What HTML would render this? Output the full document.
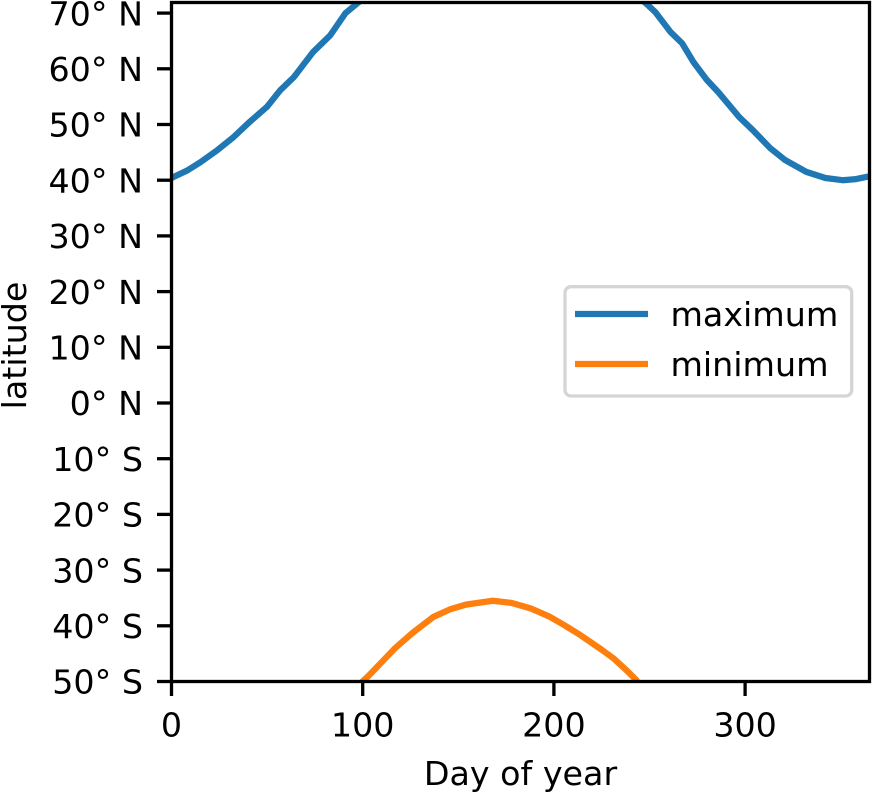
<!DOCTYPE html>
<html lang="en">
<head>
<meta charset="utf-8">
<title>Latitude extremes by day of year</title>
<style>
html,body{margin:0;padding:0;background:#fff;width:872px;height:793px;overflow:hidden}
svg{display:block}
text{font-family:"DejaVu Sans","Liberation Sans",sans-serif;font-size:33.3px;fill:#000}
</style>
</head>
<body>
<svg id="chart" xmlns="http://www.w3.org/2000/svg" width="872" height="793" viewBox="0 0 872 793">
  <defs>
    <clipPath id="plot-clip"><rect x="171.5" y="2.5" width="698" height="679"></rect></clipPath>
  </defs>
  <rect x="0" y="0" width="872" height="793" fill="#fff"></rect>
  <g id="series" clip-path="url(#plot-clip)"></g>
  <g id="ticks"></g>
  <g fill="none" stroke="#000" stroke-width="3.3">
    <rect x="171.5" y="2.5" width="698" height="679"></rect>
  </g>
  <text x="520.5" y="785" text-anchor="middle">Day of year</text>
  <text x="0" y="0" text-anchor="middle" transform="translate(26 345.5) rotate(-90)">latitude</text>
  <g>
    <rect x="565" y="286.7" width="286.7" height="109.3" rx="6" ry="6" fill="#fff" fill-opacity="0.8" stroke="#d5d5d5" stroke-width="3.3"></rect>
    <line x1="575" x2="648" y1="314" y2="314" stroke="#1f77b4" stroke-width="6.25"></line>
    <text x="670.5" y="326">maximum</text>
    <line x1="575" x2="648" y1="364" y2="364" stroke="#ff7f0e" stroke-width="6.25"></line>
    <text x="670.5" y="376">minimum</text>
  </g>
</svg>
<script>
const maxDays = [0, 8, 15, 24, 32, 41, 50, 57, 64, 74, 83, 91, 97, 105, 120, 150, 172, 200, 230, 242, 248, 253, 261, 267, 273, 280, 286, 297, 304, 313, 321, 332, 342, 351, 358, 365];
const maxLats = [40.4, 41.7, 43.2, 45.4, 47.6, 50.5, 53.2, 56.2, 58.5, 63, 66, 70, 71.7, 74, 78, 83, 85, 83, 76, 73.2, 71.8, 70.2, 66.6, 64.6, 61.2, 58, 55.8, 51.3, 49, 45.8, 43.6, 41.5, 40.4, 40, 40.2, 40.7];
const minDays = [96, 99, 103, 110, 117, 126, 137, 146, 154, 168, 178, 188, 198, 206, 214, 225, 231, 238, 243, 247];
const minLats = [-52, -50.3, -49, -46.5, -44, -41.3, -38.4, -37, -36.2, -35.5, -35.9, -36.9, -38.4, -40, -41.7, -44.3, -45.8, -48, -49.7, -52];
const xTickValues = [0, 100, 200, 300];
const xTickLabels = ["0", "100", "200", "300"];
const yTickValues = [70, 60, 50, 40, 30, 20, 10, 0, -10, -20, -30, -40, -50];
const yTickLabels = ["70° N", "60° N", "50° N", "40° N", "30° N", "20° N", "10° N", "0° N", "10° S", "20° S", "30° S", "40° S", "50° S"];

const SVG_NS = "http://www.w3.org/2000/svg";
const xScale = function (day) { return 171.5 + day * 1.912; };
const yScale = function (lat) { return 403 - lat * 5.57; };

function linePoints(xs, ys) {
  return xs.map(function (x, i) { return xScale(x).toFixed(2) + "," + yScale(ys[i]).toFixed(2); }).join(" ");
}

const seriesGroup = document.getElementById("series");
const tickGroup = document.getElementById("ticks");

const maxLine = document.createElementNS(SVG_NS, "polyline");


maxLine.setAttribute("points", linePoints(maxDays, maxLats));
maxLine.setAttribute("fill", "none");
maxLine.setAttribute("stroke", "#1f77b4");
maxLine.setAttribute("stroke-width", "6.25");
maxLine.setAttribute("stroke-linejoin", "round");
seriesGroup.appendChild(maxLine);

const minLine = document.createElementNS(SVG_NS, "polyline");


minLine.setAttribute("points", linePoints(minDays, minLats));
minLine.setAttribute("fill", "none");
minLine.setAttribute("stroke", "#ff7f0e");
minLine.setAttribute("stroke-width", "6.25");
minLine.setAttribute("stroke-linejoin", "round");
seriesGroup.appendChild(minLine);

xTickValues.forEach(function (value, i) {
  const x = xScale(value);
  const mark = document.createElementNS(SVG_NS, "line");
  
  
  mark.setAttribute("x1", x);
  mark.setAttribute("x2", x);
  mark.setAttribute("y1", 681.5);
  mark.setAttribute("y2", 696);
  mark.setAttribute("stroke", "#000");
  mark.setAttribute("stroke-width", "3.3");
  tickGroup.appendChild(mark);
  const label = document.createElementNS(SVG_NS, "text");
  
  
  label.setAttribute("x", x);
  label.setAttribute("y", 736.7);
  label.setAttribute("text-anchor", "middle");
  label.textContent = xTickLabels[i];
  tickGroup.appendChild(label);
});

yTickValues.forEach(function (value, i) {
  const y = yScale(value);
  const mark = document.createElementNS(SVG_NS, "line");
  
  
  mark.setAttribute("x1", 157);
  mark.setAttribute("x2", 171.5);
  mark.setAttribute("y1", y);
  mark.setAttribute("y2", y);
  mark.setAttribute("stroke", "#000");
  mark.setAttribute("stroke-width", "3.3");
  tickGroup.appendChild(mark);
  const label = document.createElementNS(SVG_NS, "text");
  
  
  label.setAttribute("x", 143);
  label.setAttribute("y", y + 12.2);
  label.setAttribute("text-anchor", "end");
  label.textContent = yTickLabels[i];
  tickGroup.appendChild(label);
});
</script>
</body>
</html>
